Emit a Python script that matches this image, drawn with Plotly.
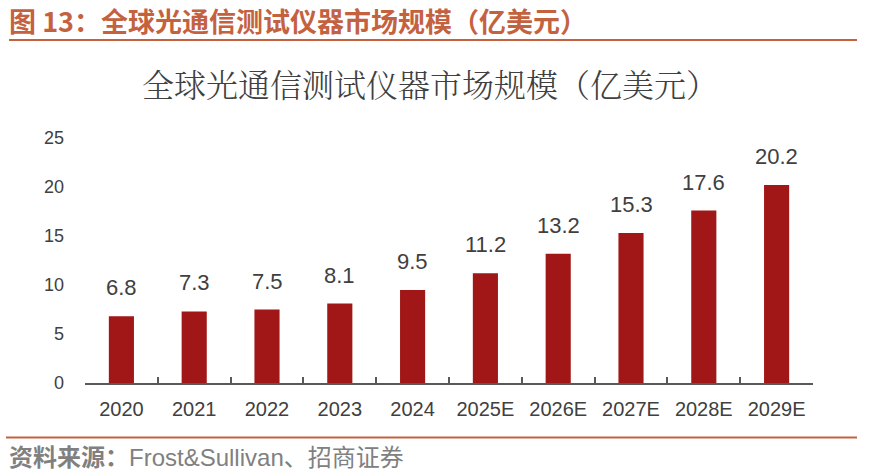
import plotly.graph_objects as go

# ---- data ----
categories = ["2020", "2021", "2022", "2023", "2024", "2025E", "2026E", "2027E", "2028E", "2029E"]
values = [6.8, 7.3, 7.5, 8.1, 9.5, 11.2, 13.2, 15.3, 17.6, 20.2]
y_ticks = [0, 5, 10, 15, 20, 25]

header_text = "图 13：全球光通信测试仪器市场规模（亿美元）"
chart_title = "全球光通信测试仪器市场规模（亿美元）"
source_label = "资料来源："
source_text = "Frost&Sullivan、招商证券"

# ---- layout geometry (pixels; page body margin is removed) ----
W, H = 871, 473
L, R, T, B = 85, 813, 138, 383  # plot area edges


def px_x(sx):
    return (sx - L) / (R - L)


def px_y(sy):
    return (B - sy) / (B - T)


BAR = "#A11616"
ACCENT = "#C4623F"
AXIS = "#595959"
TEXT = "#404040"

fig = go.Figure()
fig.add_trace(go.Bar(
    x=categories, y=values,
    marker=dict(color=BAR, line=dict(width=0)),
    hoverinfo="x+y",
))

# data labels (category index positions on the category axis)
for i, v in enumerate(values):
    fig.add_annotation(
        x=i, y=v, xref="x", yref="y",
        text=f"{v:.1f}", showarrow=False,
        yanchor="bottom", xanchor="center", yshift=14,
        font=dict(family="Liberation Sans, Arial, sans-serif", size=22, color=TEXT),
    )

# header
fig.add_annotation(
    x=px_x(7), y=px_y(20), xref="paper", yref="paper",
    text=f"<b>{header_text}</b>", showarrow=False,
    xanchor="left", yanchor="middle",
    font=dict(family="Noto Sans CJK SC, sans-serif", size=27, color=ACCENT),
)
# chart title
fig.add_annotation(
    x=px_x(430), y=px_y(83), xref="paper", yref="paper",
    text=chart_title, showarrow=False,
    xanchor="center", yanchor="middle",
    font=dict(family="Noto Serif CJK SC, Noto Sans CJK SC, serif", size=32, color=TEXT, weight=300),
)
# footer
fig.add_annotation(
    x=px_x(7), y=px_y(457), xref="paper", yref="paper",
    text=f"<b>{source_label}</b>{source_text}", showarrow=False,
    xanchor="left", yanchor="middle",
    font=dict(family="Liberation Sans, Noto Sans CJK SC, sans-serif", size=24, color="#808080"),
)

# header / footer rules
fig.add_shape(type="line", xref="paper", yref="paper",
              x0=px_x(9), x1=px_x(857), y0=px_y(40), y1=px_y(40),
              line=dict(color=ACCENT, width=2.2))
fig.add_shape(type="line", xref="paper", yref="paper",
              x0=px_x(6), x1=px_x(857), y0=px_y(437.5), y1=px_y(437.5),
              line=dict(color=ACCENT, width=2.2))

fig.update_layout(
    width=W, height=H,
    margin=dict(l=L, r=W - R, t=T, b=H - B, pad=0),
    paper_bgcolor="white", plot_bgcolor="white",
    showlegend=False,
    bargap=0.655,
    font=dict(family="Liberation Sans, Arial, sans-serif", color=TEXT),
)
fig.update_xaxes(
    type="category", range=[-0.5, len(categories) - 0.5], automargin=False,
    showline=True, linecolor=AXIS, linewidth=1.5,
    ticks="inside", tickson="boundaries", ticklen=6, tickcolor=AXIS, tickwidth=1.5,
    tickfont=dict(size=20, color=TEXT), tickangle=0,
    ticklabelstandoff=7,
    showgrid=False, zeroline=False,
)
fig.update_yaxes(
    range=[0, 25], tickvals=y_ticks, automargin=False,
    showline=False, ticks="", showgrid=False, zeroline=False,
    tickfont=dict(size=18, color=TEXT),
    ticklabelstandoff=20,
)

fig.write_html(
    "out.html",
    config={"displayModeBar": False},
    post_script="document.body.style.margin='0';document.body.style.overflow='hidden';",
)
